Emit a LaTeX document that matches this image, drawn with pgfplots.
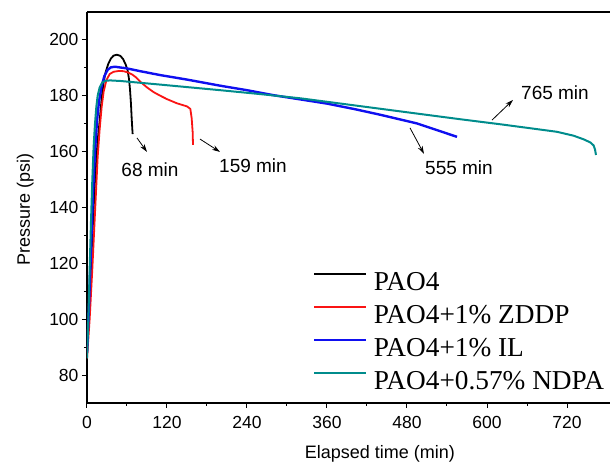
\documentclass[border=0pt]{standalone}
\usepackage{pgfplots}
\pgfplotsset{compat=1.18}
\usepackage{fontspec}
\setmainfont{Liberation Sans}
\newfontfamily\legfont{Liberation Serif}
\usetikzlibrary{arrows.meta}
\definecolor{tealc}{RGB}{0,140,140}
\definecolor{bluec}{RGB}{15,15,240}
\definecolor{redc}{RGB}{250,20,20}
\begin{document}
\begin{tikzpicture}
\begin{axis}[name=ax,
 scale only axis, width=524pt, height=391pt,
 xmin=0, xmax=786, ymin=70, ymax=210,
 axis x line=box, axis y line=left,
 x axis line style={-}, y axis line style={-},
 axis line style={line width=1.2pt},
 xtick={0,120,...,720}, ytick={80,100,...,200},
 minor x tick num=1, minor y tick num=1,
 tick align=outside, xtick pos=left, ytick pos=left,
 major tick length=5pt, minor tick length=3pt,
 tick style={line width=1pt, black},
 ticklabel style={font=\fontsize{17.5}{20}\selectfont},
 xticklabel style={yshift=-5pt},
 /pgf/number format/assume math mode=true,
 xlabel={Elapsed time (min)}, ylabel={Pressure (psi)},
 label style={font=\fontsize{18}{21}\selectfont},
 xlabel style={at={(axis description cs:0.559,-0.1407)}, anchor=base},
 ylabel style={at={(axis description cs:-0.1088,0.494)}, anchor=base},
 legend cell align=left,
 legend image code/.code={\draw[#1, line width=1.6pt] (0pt,9pt) -- (52pt,9pt);},
 legend style={draw=none, fill=none, inner sep=0pt,
   at={(axis description cs:0.4313,0.3400)}, anchor=north west,
   font=\legfont\fontsize{27.3}{30}\selectfont,
   nodes={inner sep=0pt, text height=20pt, text depth=6pt},
   column sep=7pt, row sep=7pt},
 line join=round,
]
\addplot[black, line width=1.8pt] coordinates {
(0,87)(4,108)(8,130)(12,150)(16,164)(19,171)(22,179)(25,185)(28,188.5)(32,191.5)(36,193.4)(40,194.4)(45,194.7)(50,194.3)(54,193.2)(58,191.2)(61,189)(63,186)(64.5,182.3)(66,177)(67,172)(68,168)(68.5,166.3)
};
\addlegendentry{PAO4}
\addplot[redc, line width=1.8pt] coordinates {
(0,86)(4,100)(8,118)(12,138)(16,158)(19,168)(22,176)(25,181.5)(29,185.5)(34,187.8)(40,188.6)(48,188.9)(55,188.8)(62,188.3)(68,187.6)(74,186.5)(80,185)(90,183)(100,181.3)(110,180)(120,178.8)(135,177.3)(150,176.2)(155,175.3)(157,172)(158.5,167)(159,162.4)
};
\addlegendentry{PAO4+1\% ZDDP}
\addplot[bluec, line width=2.4pt] coordinates {
(0,88)(3,105)(6,125)(9,145)(12,160)(15,171)(18,178)(22,183.5)(26,187)(31,189.3)(36,190.2)(42,190.4)(60,189.8)(80,188.8)(110,187.4)(150,185.8)(200,183.6)(240,182)(280,180.2)(320,178.7)(360,177.2)(400,175.3)(440,173.2)(495,170.1)(530,167.3)(555,165.3)
};
\addlegendentry{PAO4+1\% IL}
\addplot[tealc, line width=2pt] coordinates {
(0,86)(2,100)(4,118)(6,135)(8,150)(10,162)(12,170)(14,176)(16,180)(19,183)(23,184.8)(28,185.4)(35,185.5)(50,185.3)(110,184)(200,182)(260,180.6)(320,179.1)(400,176.6)(480,174.1)(560,171.6)(620,169.8)(680,167.9)(705,167.1)(730,165.7)(745,164.4)(755,163.3)(760,162.2)(762,160.8)(763.5,158.8)
};
\addlegendentry{PAO4+0.57\% NDPA}
\draw[line width=0.8pt, -{Stealth[length=8pt,width=5pt]}] (axis cs:75,164.9) -- (axis cs:90,159.9);
\draw[line width=0.8pt, -{Stealth[length=8pt,width=5pt]}] (axis cs:169.5,164.5) -- (axis cs:199.5,159.9);
\draw[line width=0.8pt, -{Stealth[length=8pt,width=5pt]}] (axis cs:484.5,168.5) -- (axis cs:505.5,159.2);
\draw[line width=0.8pt, -{Stealth[length=8pt,width=5pt]}] (axis cs:607.5,171.3) -- (axis cs:639,178.5);
\node[font=\fontsize{19}{22}\selectfont] at (axis cs:94.5,153.4) {68 min};
\node[font=\fontsize{19}{22}\selectfont] at (axis cs:249,154.9) {159 min};
\node[font=\fontsize{19}{22}\selectfont] at (axis cs:558,154.1) {555 min};
\node[font=\fontsize{19}{22}\selectfont] at (axis cs:702,181) {765 min};
\end{axis}
\pgfresetboundingbox
\path ([xshift=-87pt,yshift=-60pt]ax.south west) rectangle ([xshift=-1pt,yshift=12pt]ax.north east);
\end{tikzpicture}
\end{document}
